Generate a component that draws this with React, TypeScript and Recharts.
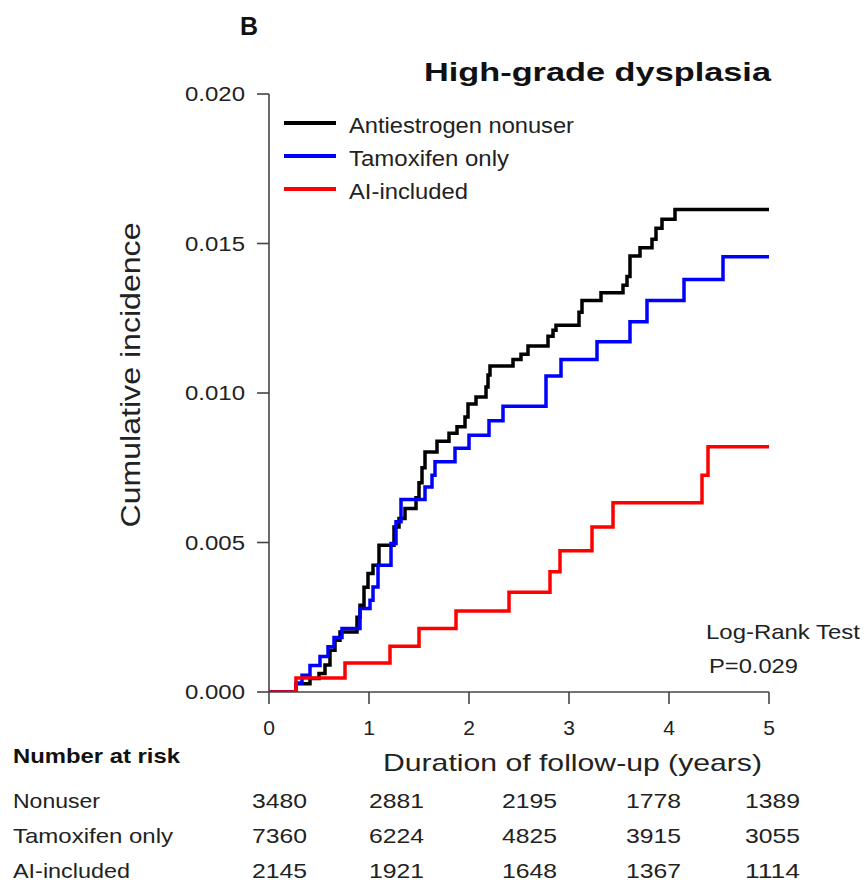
import { LineChart, Line, XAxis, YAxis, Legend } from "recharts"

// follow-up time (years) and cumulative incidence, step points
const nonuserT = [0, 0.27, 0.41, 0.5, 0.56, 0.61, 0.66, 0.71, 0.88, 0.91, 0.95, 0.99, 1.04, 1.1, 1.25, 1.3, 1.36, 1.47, 1.5, 1.53, 1.56, 1.68, 1.8, 1.88, 1.96, 1.99, 2.07, 2.17, 2.19, 2.21, 2.44, 2.52, 2.59, 2.79, 2.84, 2.87, 3.1, 3.13, 3.32, 3.54, 3.58, 3.61, 3.71, 3.83, 3.87, 3.93, 4.06, 5]
const nonuserY = [0, 0.00028, 0.00045, 0.00062, 0.0009, 0.0014, 0.00173, 0.00201, 0.0025, 0.0029, 0.0035, 0.00396, 0.00424, 0.00491, 0.00552, 0.0058, 0.00614, 0.0065, 0.007, 0.0075, 0.00803, 0.00839, 0.00865, 0.00887, 0.0092, 0.00963, 0.00987, 0.0102, 0.0106, 0.0109, 0.01112, 0.0113, 0.01157, 0.0119, 0.0121, 0.01227, 0.0127, 0.01309, 0.01335, 0.0136, 0.0139, 0.01458, 0.01486, 0.01514, 0.01551, 0.01581, 0.01614, 0.01614]

const tamoxT = [0, 0.27, 0.33, 0.41, 0.51, 0.59, 0.65, 0.73, 0.91, 1.01, 1.04, 1.09, 1.22, 1.27, 1.32, 1.56, 1.63, 1.66, 1.86, 2.0, 2.2, 2.34, 2.77, 2.92, 3.28, 3.61, 3.78, 4.15, 4.54, 5]
const tamoxY = [0, 0.0003, 0.00056, 0.00089, 0.00119, 0.00151, 0.00182, 0.00212, 0.00279, 0.00307, 0.00351, 0.00424, 0.00497, 0.00569, 0.00644, 0.00686, 0.00725, 0.0077, 0.00815, 0.00859, 0.00907, 0.00956, 0.01057, 0.01112, 0.01171, 0.01238, 0.01309, 0.0138, 0.01456, 0.01456]

const aiT = [0, 0.27, 0.76, 1.21, 1.5, 1.87, 2.4, 2.81, 2.91, 3.23, 3.44, 4.33, 4.39, 5]
const aiY = [0, 0.00047, 0.00097, 0.00153, 0.00212, 0.00271, 0.00334, 0.00402, 0.00472, 0.00552, 0.00633, 0.00725, 0.0082, 0.0082]

const seriesNames = ["Antiestrogen nonuser", "Tamoxifen only", "AI-included"]
const colors = ["#000000", "#0000ff", "#ff0000"]

const xTicks = [0, 1, 2, 3, 4, 5]
const yTicks = [0, 0.005, 0.01, 0.015, 0.02]

// number at risk table
const riskGroups = ["Nonuser", "Tamoxifen only", "AI-included"]
const riskNonuser = [3480, 2881, 2195, 1778, 1389]
const riskTamox = [7360, 6224, 4825, 3915, 3055]
const riskAI = [2145, 1921, 1648, 1367, 1114]

const FONT = "'Liberation Sans', Arial, Helvetica, sans-serif"
const AXIS = "#444"

const toData = (ts: number[], ys: number[]) => ts.map((t, i) => ({ t, y: ys[i] }))

const nonuserData = toData(nonuserT, nonuserY)
const tamoxData = toData(tamoxT, tamoxY)
const aiData = toData(aiT, aiY)

const YTick = (props: any) => {
  const { x, y, payload } = props
  return (
    <text x={x} y={y} dy="0.36em" textAnchor="end" fontSize={20} fill="#222"
      fontFamily={FONT} textLength={60} lengthAdjust="spacingAndGlyphs">
      {Number(payload.value).toFixed(3)}
    </text>
  )
}

const XTick = (props: any) => {
  const { x, y, payload } = props
  return (
    <text x={x} y={y} dy="0.72em" textAnchor="middle" fontSize={21} fill="#222"
      fontFamily={FONT}>
      {payload.value}
    </text>
  )
}

const LegendBox = () => (
  <svg width={320} height={100} style={{ display: "block" }}>
    {seriesNames.map((name, i) => (
      <g key={name}>
        <line x1={4} x2={56} y1={18 + i * 33} y2={18 + i * 33} stroke={colors[i]} strokeWidth={4} />
        <text x={69} y={27.5 + i * 33} fontSize={22} fill="#222" fontFamily={FONT}
          textLength={[225, 160, 119][i]} lengthAdjust="spacingAndGlyphs">
          {name}
        </text>
      </g>
    ))}
  </svg>
)

const riskRows = [riskNonuser, riskTamox, riskAI]
const colStarts = [252, 369, 502, 626, 745]
const labelLens = [87, 160, 117]

const App = () => {
  return (
    <div style={{ position: "absolute", left: 0, top: 0, width: 866, height: 884, background: "#fff" }}>
      <LineChart width={866} height={884} margin={{ top: 94, right: 97, bottom: 162, left: 189 }}>
        <XAxis type="number" dataKey="t" domain={[0, 5]} ticks={xTicks} allowDataOverflow
          stroke={AXIS} strokeWidth={1.6} tickSize={12} tickMargin={16} tick={<XTick />} height={30} />
        <YAxis type="number" dataKey="y" domain={[0, 0.02]} ticks={yTicks} allowDataOverflow
          stroke={AXIS} strokeWidth={1.6} tickSize={12} tickMargin={12} tick={<YTick />} width={80} />
        <Legend layout="vertical" align="center" verticalAlign="middle"
          wrapperStyle={{ top: 105, left: 280, width: 320, height: 100 }} content={<LegendBox />} />
        <Line data={nonuserData} dataKey="y" name={seriesNames[0]} type="stepAfter" stroke={colors[0]}
          strokeWidth={3.5} dot={false} isAnimationActive={false} />
        <Line data={tamoxData} dataKey="y" name={seriesNames[1]} type="stepAfter" stroke={colors[1]}
          strokeWidth={3.5} dot={false} isAnimationActive={false} />
        <Line data={aiData} dataKey="y" name={seriesNames[2]} type="stepAfter" stroke={colors[2]}
          strokeWidth={3.5} dot={false} isAnimationActive={false} />
      </LineChart>

      <svg width={866} height={884} style={{ position: "absolute", left: 0, top: 0, pointerEvents: "none" }}
        fontFamily={FONT} fill="#222">
        <text x={240} y={35} fontSize={25} fontWeight="bold" fill="#111">B</text>
        <text x={424} y={81} fontSize={26} fontWeight="bold" fill="#111" textLength={347}
          lengthAdjust="spacingAndGlyphs">High-grade dysplasia</text>

        <text x={140} y={375} fontSize={27} textAnchor="middle" transform="rotate(-90 140 375)"
          textLength={305} lengthAdjust="spacingAndGlyphs">Cumulative incidence</text>
        <text x={383} y={771} fontSize={24} textLength={379}
          lengthAdjust="spacingAndGlyphs">Duration of follow-up (years)</text>

        <text x={706} y={639} fontSize={21} textLength={154} lengthAdjust="spacingAndGlyphs">Log-Rank Test</text>
        <text x={709} y={673} fontSize={21} textLength={89} lengthAdjust="spacingAndGlyphs">P=0.029</text>

        <text x={13} y={763} fontSize={21} fontWeight="bold" fill="#111" textLength={167}
          lengthAdjust="spacingAndGlyphs">Number at risk</text>
        {riskGroups.map((g, r) => (
          <g key={g}>
            <text x={13} y={808 + r * 35} fontSize={21} textLength={labelLens[r]}
              lengthAdjust="spacingAndGlyphs">{g}</text>
            {riskRows[r].map((v, c) => (
              <text key={c} x={colStarts[c]} y={808 + r * 35} fontSize={21} textLength={55}
                lengthAdjust="spacingAndGlyphs">{v}</text>
            ))}
          </g>
        ))}
      </svg>
    </div>
  )
}

export default App
